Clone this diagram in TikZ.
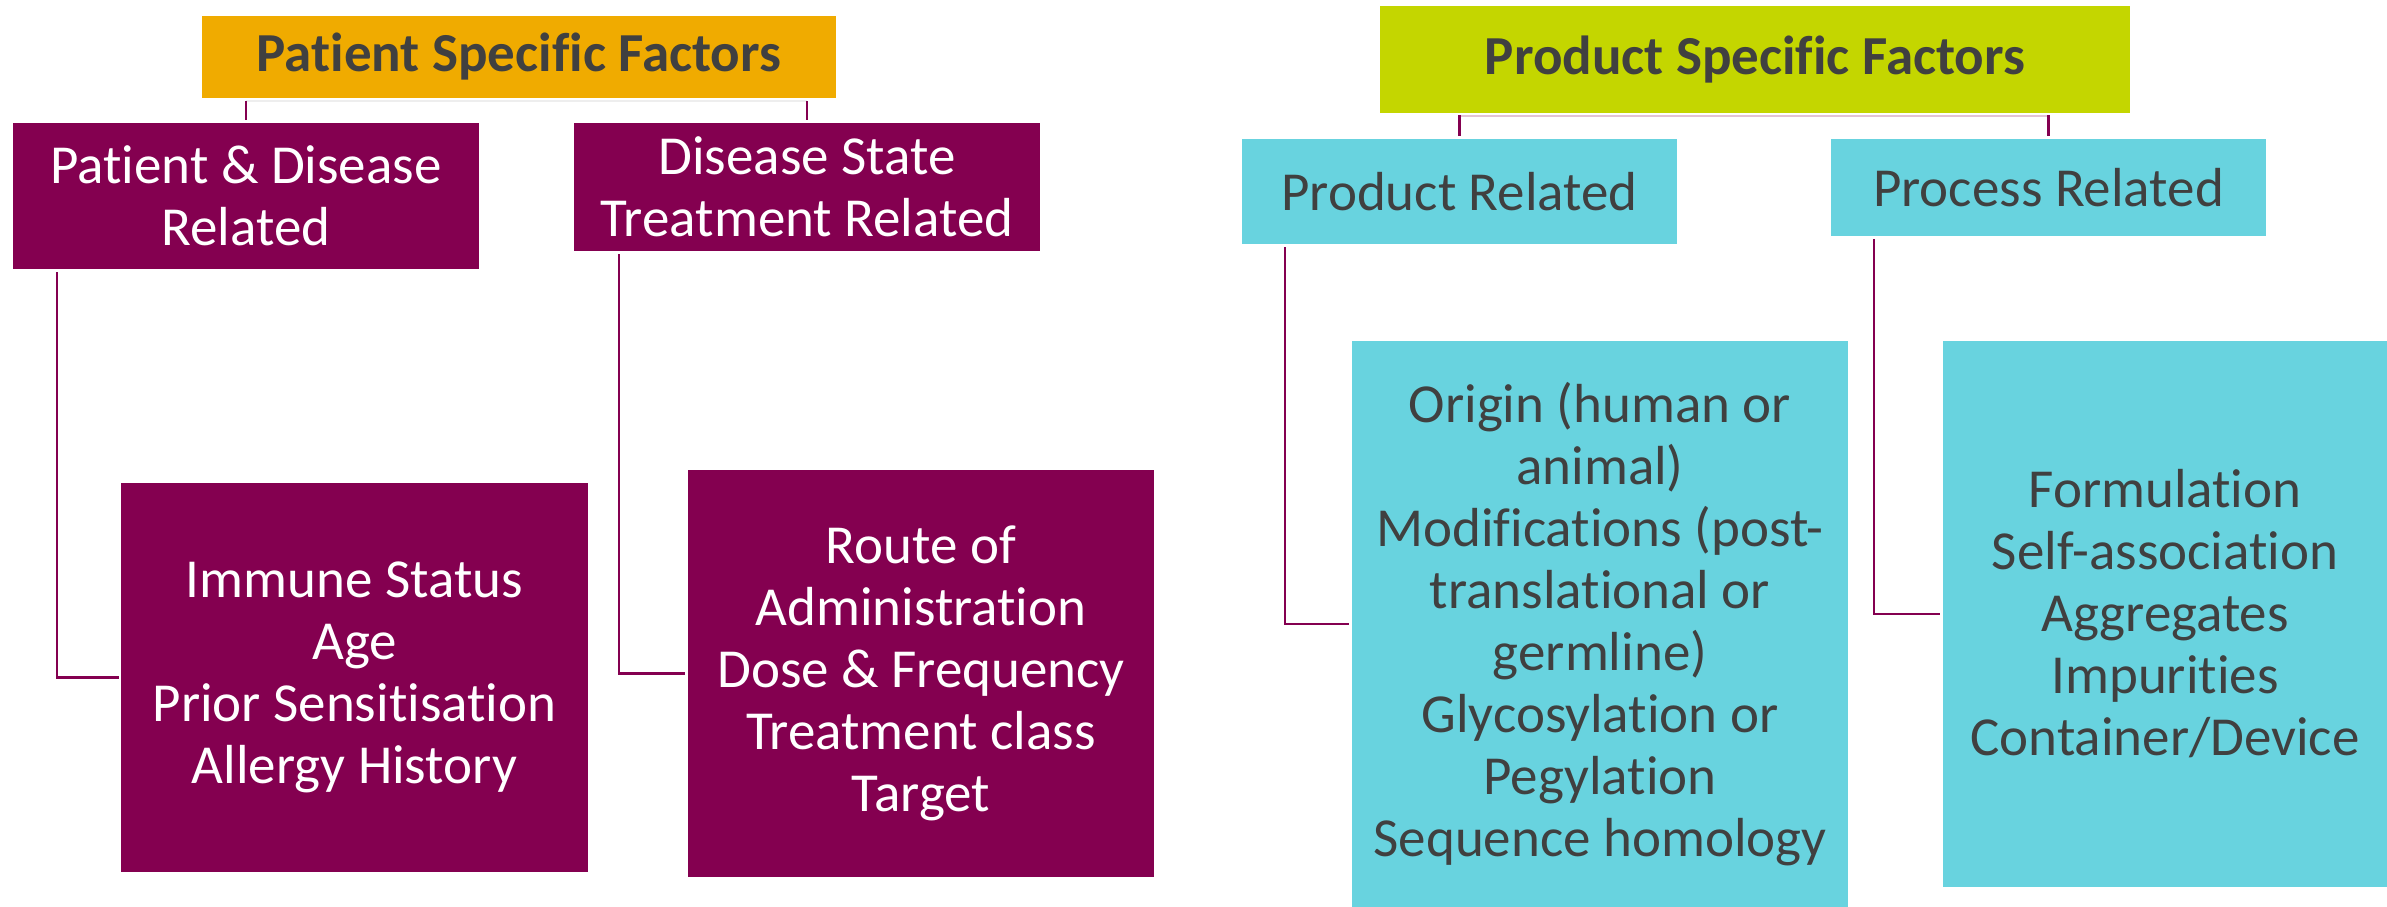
\documentclass[tikz,border=0pt]{standalone}
\usepackage{fontspec}
\setmainfont{Carlito}[Ligatures=NoCommon, Contextuals=NoAlternate]
\definecolor{maroon}{HTML}{840050}
\definecolor{gold}{HTML}{F0AB00}
\definecolor{lime}{HTML}{C4D600}
\definecolor{cyanbox}{HTML}{68D3DF}
\definecolor{darktext}{HTML}{404040}
\definecolor{faintpink}{HTML}{E2C4D4}
\definecolor{faintgrey}{HTML}{EEEEEE}
\begin{document}
\begin{tikzpicture}[x=1pt,y=-1pt,
  box/.style={inner sep=0pt, outer sep=0pt, align=center, font=\fontsize{55}{62}\selectfont},
  titlebox/.style={box, font=\fontsize{55}{62}\selectfont\bfseries, text=darktext},
  mbox/.style={box, fill=maroon, text=white},
  cbox/.style={box, fill=cyanbox, text=darktext},
  conn/.style={draw=maroon, line width=2.5pt},
  bar/.style={line width=1.2pt}]
\useasboundingbox (0,0) rectangle (2387,907);

% Patient side
\node[titlebox, fill=gold, minimum width=634pt, minimum height=82pt] (pa) at (519,57) {Patient Specific Factors};
\node[mbox, minimum width=466pt, minimum height=146pt] (c1) at (246,196) {Patient \& Disease\\Related};
\node[mbox, minimum width=466pt, minimum height=128pt] (c2) at (807,187) {Disease State\\Treatment Related};
\node[mbox, minimum width=467pt, minimum height=389pt] (g1) at (354.5,677.5) {Immune Status\\Age\\Prior Sensitisation\\Allergy History};
\node[mbox, minimum width=466pt, minimum height=407pt] (g2) at (921,673.5) {Route of\\Administration\\Dose \& Frequency\\Treatment class\\Target};

% Product side
\node[titlebox, fill=lime, minimum width=750pt, minimum height=107pt] (pb) at (1755,59.5) {Product Specific Factors};
\node[cbox, minimum width=435pt, minimum height=105pt] (c3) at (1459.5,191.5) {Product Related};
\node[cbox, minimum width=435pt, minimum height=97pt] (c4) at (2048.5,187.5) {Process Related};
\node[cbox, minimum width=496pt, minimum height=566pt] (g3) at (1600,624) {Origin (human or\\animal)\\Modifications (post-\\translational or\\germline)\\Glycosylation or\\Pegylation\\Sequence homology};
\node[cbox, minimum width=444pt, minimum height=546pt] (g4) at (2165,614) {Formulation\\Self-association\\Aggregates\\Impurities\\Container/Device};

% faint bars
\draw[bar, draw=faintgrey] ([yshift=-3pt]pa.south -| c1) -- ([yshift=-3pt]pa.south -| c2);
\draw[bar, draw=faintpink] ([yshift=-3pt]pb.south -| c3) -- ([yshift=-3pt]pb.south -| c4);

% stubs
\draw[conn] ([yshift=-3pt]pa.south -| c1) -- ([yshift=3pt]c1.north);
\draw[conn] ([yshift=-3pt]pa.south -| c2) -- ([yshift=3pt]c2.north);
\draw[conn] ([yshift=-2pt]pb.south -| c3) -- ([yshift=3pt]c3.north);
\draw[conn] ([yshift=-2pt]pb.south -| c4) -- ([yshift=3pt]c4.north);

% elbows
\coordinate (s1) at ([xshift=44pt,yshift=-3pt]c1.south west);
\coordinate (s2) at ([xshift=45pt,yshift=-3pt]c2.south west);
\coordinate (s3) at ([xshift=43pt,yshift=-3pt]c3.south west);
\coordinate (s4) at ([xshift=43pt,yshift=-3pt]c4.south west);
\draw[conn] (s1) |- ([xshift=-2pt]g1.west);
\draw[conn] (s2) |- ([xshift=-3pt]g2.west);
\draw[conn] (s3) |- ([xshift=-3pt]g3.west);
\draw[conn] (s4) |- ([xshift=-3pt]g4.west);
\end{tikzpicture}
\end{document}
